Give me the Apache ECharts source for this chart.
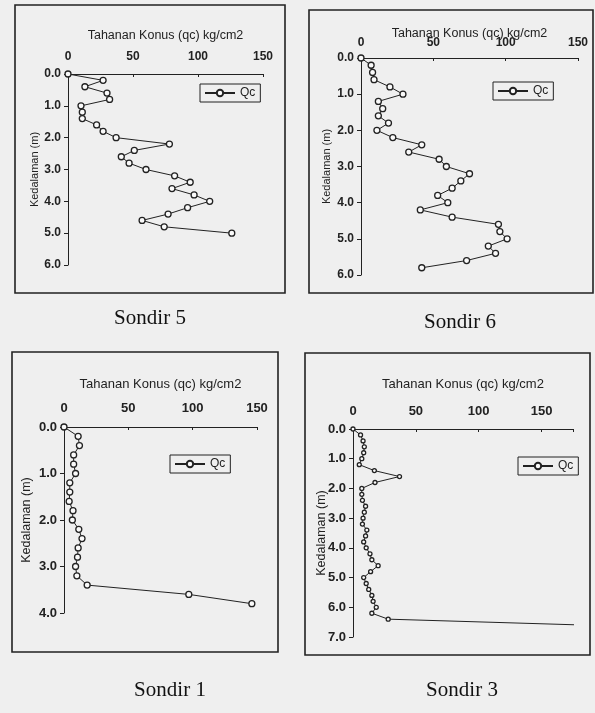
<!DOCTYPE html>
<html>
<head>
<meta charset="utf-8">
<script src="https://cdn.jsdelivr.net/npm/echarts@6/dist/echarts.min.js"></script>
<style>
html,body{margin:0;padding:0;background:#efefef;}
#c{width:595px;height:713px;}
</style>
</head>
<body>
<div id="c"></div>
<script>
// ---- Data ----
var captions = ['Sondir 5', 'Sondir 6', 'Sondir 1', 'Sondir 3'];
var xTitle = 'Tahanan Konus (qc) kg/cm2';
var yTitle = 'Kedalaman (m)';
var legendLabel = 'Qc';

var depth5 = [0.0,0.2,0.4,0.6,0.8,1.0,1.2,1.4,1.6,1.8,2.0,2.2,2.4,2.6,2.8,3.0,3.2,3.4,3.6,3.8,4.0,4.2,4.4,4.6,4.8,5.0];
var qc5    = [0,27,13,30,32,10,11,11,22,27,37,78,51,41,47,60,82,94,80,97,109,92,77,57,74,126];

var depth6 = [0.0,0.2,0.4,0.6,0.8,1.0,1.2,1.4,1.6,1.8,2.0,2.2,2.4,2.6,2.8,3.0,3.2,3.4,3.6,3.8,4.0,4.2,4.4,4.6,4.8,5.0,5.2,5.4,5.6,5.8];
var qc6    = [0,7,8,9,20,29,12,15,12,19,11,22,42,33,54,59,75,69,63,53,60,41,63,95,96,101,88,93,73,42];

var depth1 = [0.0,0.2,0.4,0.6,0.8,1.0,1.2,1.4,1.6,1.8,2.0,2.2,2.4,2.6,2.8,3.0,3.2,3.4,3.6,3.8];
var qc1    = [0,11,12,7.5,7.5,9,4.5,4.5,4,7,6.5,11.5,14,11,10.5,9,10,18,97,146];

var depth3 = [0.0,0.2,0.4,0.6,0.8,1.0,1.2,1.4,1.6,1.8,2.0,2.2,2.4,2.6,2.8,3.0,3.2,3.4,3.6,3.8,4.0,4.2,4.4,4.6,4.8,5.0,5.2,5.4,5.6,5.8,6.0,6.2,6.4,6.6];
var qc3    = [0,6,8,9,8.5,7,5,17,37,17.5,7,7,7.5,10,9,8,7.5,11,10,8.5,10.5,13.5,15,20,14,8.5,10.5,12.5,15,16,18.5,15,28,185];

var xTicks = [0, 50, 100, 150];
var xMax = [150, 150, 150, 175];
var yMax = [6, 6, 4, 7];

// ---- Layout (pixels) ----
var panels = [
  {grid:{left:68, top:74, width:195, height:191}, frame:[15,5,270,288], cap:[150,318],
   legend:{left:200, top:84}, lm:11, ylm:7, fs:12, tfs:12.5, ngap:32, yfs:11, ygap:28, sym:6},
  {grid:{left:361, top:58, width:217, height:217}, frame:[309,10,284,283], cap:[460,322],
   legend:{left:493, top:82}, lm:9, ylm:7, fs:12, tfs:12.5, ngap:18, yfs:11, ygap:29, sym:6},
  {grid:{left:64, top:427, width:193, height:186}, frame:[12,352,266,300], cap:[170,690],
   legend:{left:170, top:455}, lm:12, ylm:7, fs:13, tfs:13, ngap:36, yfs:12.5, ygap:31, sym:6},
  {grid:{left:353, top:429, width:220, height:208}, frame:[305,353,285,302], cap:[462,690],
   legend:{left:518, top:457}, lm:11, ylm:7, fs:13, tfs:13, ngap:38, yfs:12.5, ygap:25, sym:4}
];
var depths = [depth5, depth6, depth1, depth3];
var qcs = [qc5, qc6, qc1, qc3];

var ink = '#222';
var option = {
  backgroundColor: '#efefef',
  animation: false,
  grid: [], xAxis: [], yAxis: [], series: [], legend: [], graphic: []
};

panels.forEach(function (p, i) {
  option.grid.push(Object.assign({containLabel:false}, p.grid));
  option.xAxis.push({
    type:'value', gridIndex:i, position:'top', min:0, max:xMax[i], interval:50,
    name: xTitle, nameLocation:'middle', nameGap: p.ngap, nameMoveOverlap:false,
    nameTextStyle:{fontFamily:'Liberation Sans, Arial', fontSize:p.tfs, color:ink},
    axisLine:{show:true, lineStyle:{color:ink, width:1}},
    axisTick:{show:true, inside:true, length:3, lineStyle:{color:ink}},
    axisLabel:{margin:p.lm, fontFamily:'Liberation Sans, Arial', fontSize:p.fs, fontWeight:'bold', color:ink,
      formatter:function(v){ return xTicks.indexOf(v) >= 0 ? String(v) : ''; }},
    splitLine:{show:false}
  });
  option.yAxis.push({
    type:'value', gridIndex:i, inverse:true, min:0, max:yMax[i], interval:1,
    name: yTitle, nameLocation:'middle', nameGap: p.ygap, nameMoveOverlap:false,
    nameTextStyle:{fontFamily:'Liberation Sans, Arial', fontSize:p.yfs, color:ink},
    axisLine:{show:true, onZero:false, lineStyle:{color:ink, width:1}},
    axisTick:{show:true, inside:false, length:4, lineStyle:{color:ink}},
    axisLabel:{margin:p.ylm, fontFamily:'Liberation Sans, Arial', fontSize:p.fs, fontWeight:'bold', color:ink,
      formatter:function(v){ return v.toFixed(1); }},
    splitLine:{show:false}
  });
  var data = depths[i].map(function (d, k) { return [qcs[i][k], d]; });
  option.series.push({
    type:'line', name: captions[i], xAxisIndex:i, yAxisIndex:i, data:data,
    symbol:'circle', symbolSize:p.sym, clip:true,
    lineStyle:{color:ink, width:1}, itemStyle:{color:'#fafafa', borderColor:ink, borderWidth:1.3},
    emphasis:{disabled:true}
  });
  option.legend.push({
    data:[captions[i]], left:p.legend.left, top:p.legend.top, orient:'vertical',
    formatter:function(){ return legendLabel; },
    borderColor:ink, borderWidth:1, borderRadius:0, padding:[3,5,3,4],
    itemWidth:30, itemHeight:8, itemGap:0,
    textStyle:{fontFamily:'Liberation Sans, Arial', fontSize:12, color:ink},
    selectedMode:false
  });
  option.graphic.push({
    type:'rect', shape:{x:p.frame[0], y:p.frame[1], width:p.frame[2], height:p.frame[3]},
    style:{fill:'none', stroke:ink, lineWidth:1.6}, z:-1, silent:true
  });
  option.graphic.push({
    type:'text', x:p.cap[0], y:p.cap[1],
    style:{text:captions[i], font:'21px "Liberation Serif", "Times New Roman", serif', fill:'#111',
      textAlign:'center', textVerticalAlign:'middle'}, silent:true
  });
});

var chart = echarts.init(document.getElementById('c'));
chart.setOption(option);
</script>
</body>
</html>
